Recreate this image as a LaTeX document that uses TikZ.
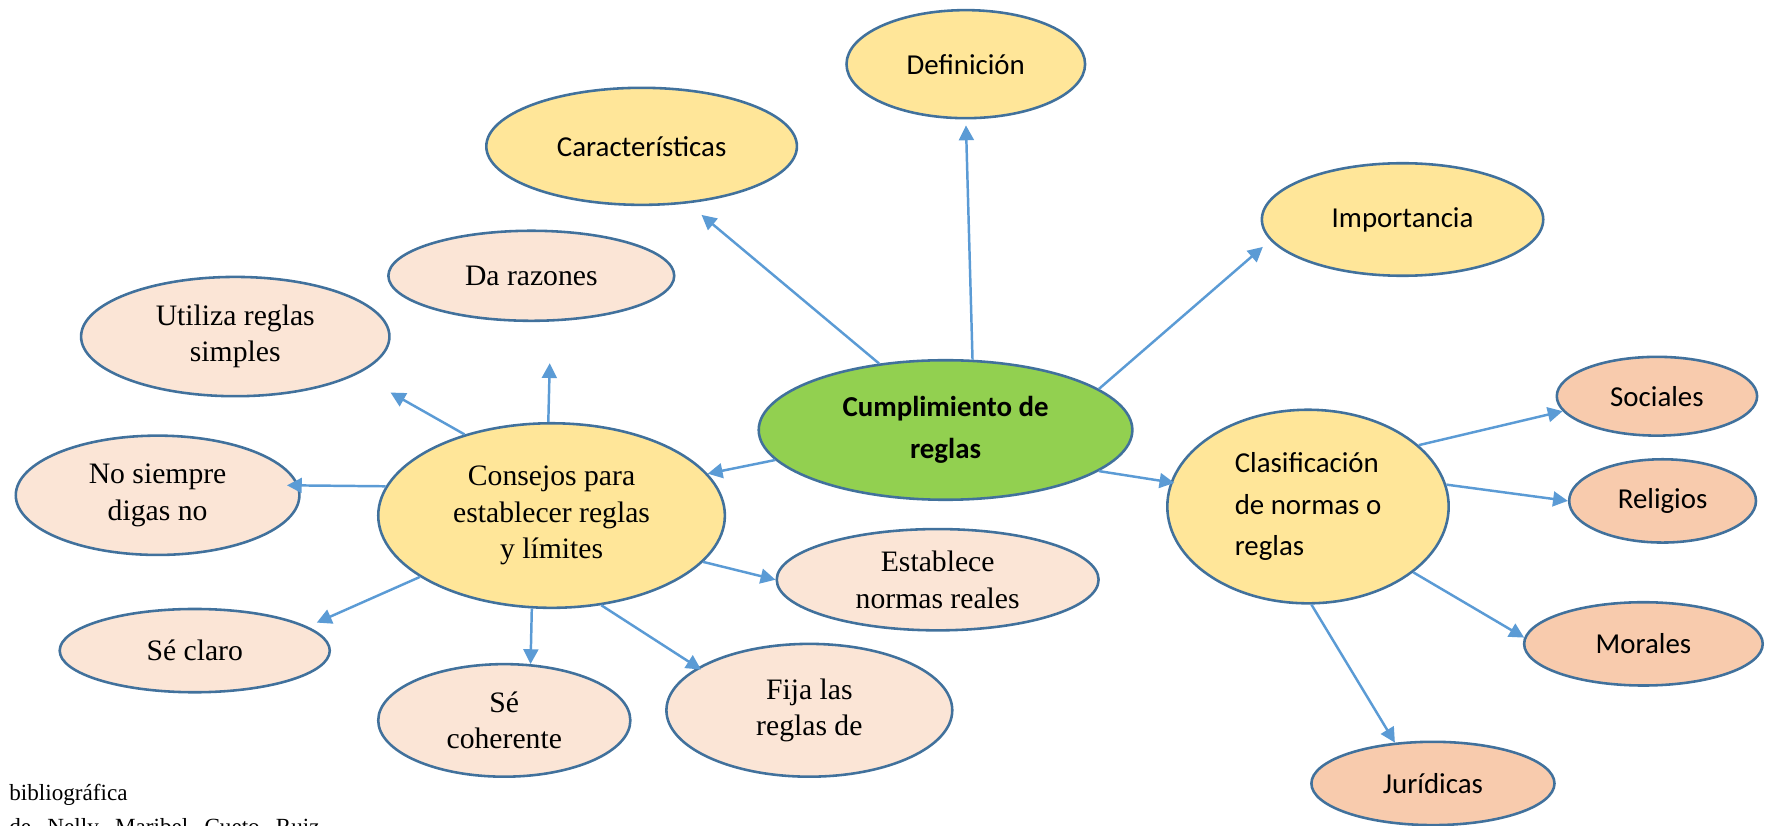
\documentclass[tikz,border=0pt]{standalone}
\usepackage{fontspec}
\setmainfont{Liberation Serif}
\newfontfamily\calibri{Carlito}
\usepackage{tikz}
\usetikzlibrary{shapes,arrows.meta,positioning}

\definecolor{amarillo}{HTML}{FFE699}
\definecolor{durazno}{HTML}{FBE5D6}
\definecolor{salmon}{HTML}{F8CBAD}
\definecolor{verde}{HTML}{92D050}
\definecolor{borde}{HTML}{41719C}
\definecolor{flecha}{HTML}{5B9BD5}

\begin{document}
\begin{tikzpicture}[x=0.02cm, y=-0.02cm]
    % Estilos
    \tikzstyle{burbuja} = [ellipse, draw=borde, line width=1.3pt, inner sep=0pt, align=center]
    \tikzstyle{idea} = [burbuja, fill=amarillo, font=\calibri\fontsize{14.6}{21}\selectfont]
    \tikzstyle{tipo} = [burbuja, fill=salmon, font=\calibri\fontsize{14.6}{21}\selectfont]
    \tikzstyle{consejo} = [burbuja, fill=durazno, font=\fontsize{15}{18.5}\selectfont]
    \tikzstyle{line} = [draw=flecha, line width=1.25pt, -{Triangle[length=7.5pt,width=7.5pt]}]

    \useasboundingbox (0,0) rectangle (1568,733);
    \clip (0,0) rectangle (1568,733);

    % Nodos
    \node [burbuja, fill=verde, minimum width=6.64cm, minimum height=2.48cm,
           font=\calibri\bfseries\fontsize{14.6}{21.3}\selectfont] (cumpl) at (840,382) {Cumplimiento de\\reglas};
    \node [idea, minimum width=4.24cm, minimum height=1.92cm] (defin) at (858,57) {Definición};
    \node [idea, minimum width=5.52cm, minimum height=2.08cm] (carac) at (570,130) {Características};
    \node [idea, minimum width=5.0cm, minimum height=2.0cm] (impor) at (1246,195) {Importancia};
    \node [idea, minimum width=5.0cm, minimum height=3.44cm, align=left] (clasif) at (1162,450) {Clasificación\\de normas o\\reglas};
    \node [idea, minimum width=6.16cm, minimum height=3.28cm, font=\fontsize{15}{18.5}\selectfont] (consejos) at (490,458) {Consejos para\\establecer reglas\\y límites};

    \node [consejo, minimum width=5.08cm, minimum height=1.6cm] (razones) at (472,245) {Da razones};
    \node [consejo, minimum width=5.48cm, minimum height=2.12cm] (simples) at (209,299) {Utiliza reglas\\simples};
    \node [consejo, minimum width=5.04cm, minimum height=2.12cm] (nosiempre) at (140,440) {No siempre\\digas no};
    \node [consejo, minimum width=4.8cm, minimum height=1.48cm] (claro) at (173,578) {Sé claro};
    \node [consejo, minimum width=4.48cm, minimum height=2.0cm] (coherente) at (448,640) {Sé\\coherente};
    \node [consejo, minimum width=5.08cm, minimum height=2.36cm] (fija) at (719,631) {Fija las\\reglas de};
    \node [consejo, minimum width=5.72cm, minimum height=1.8cm] (normas) at (833,515) {Establece\\normas reales};

    \node [tipo, minimum width=3.56cm, minimum height=1.4cm] (sociales) at (1472,352) {Sociales};
    \node [tipo, minimum width=3.32cm, minimum height=1.48cm] (religios) at (1477,445) {Religios};
    \node [tipo, minimum width=4.24cm, minimum height=1.48cm] (morales) at (1460,572) {Morales};
    \node [tipo, minimum width=4.32cm, minimum height=1.48cm] (juridicas) at (1273,696) {Jurídicas};

    \node [anchor=base west, align=left, inner sep=0pt,
           font={\fontsize{11.7}{17}\selectfont\spaceskip=0.7em\relax}] (fuente) at (8,741) {bibliográfica\\de Nelly Maribel Cueto Ruiz};

    % Conexiones
    \path [line, shorten >=9pt] (cumpl.135) -- (carac.-51);
    \path [line, shorten >=3pt] (cumpl.69) -- (defin.south);
    \path [line, shorten >=5pt] (cumpl.15) -- (impor.189);
    \path [line] (cumpl.190) -- (consejos.15);
    \path [line, shorten >=-2pt] (cumpl.-15) -- (clasif.170);

    \path [line, shorten >=19pt] (consejos.137) -- (simples.-17);
    \path [line, shorten >=21pt] (consejos.92) -- (razones.-67);
    \path [line, shorten >=-6pt] (consejos.170) -- (nosiempre.4);
    \path [line, shorten >=5pt] (consejos.205) -- (claro.12);
    \path [line] (consejos.258) -- (coherente.65);
    \path [line, shorten >=-2pt] (consejos.-61) -- (fija.159);
    \path [line] (consejos.-17) -- (normas.180);

    \path [line] (clasif.29) -- (sociales.189);
    \path [line] (clasif.9) -- (religios.180);
    \path [line] (clasif.-32) -- (morales.177);
    \path [line] (clasif.-88) -- (juridicas.133);
\end{tikzpicture}
\end{document}
